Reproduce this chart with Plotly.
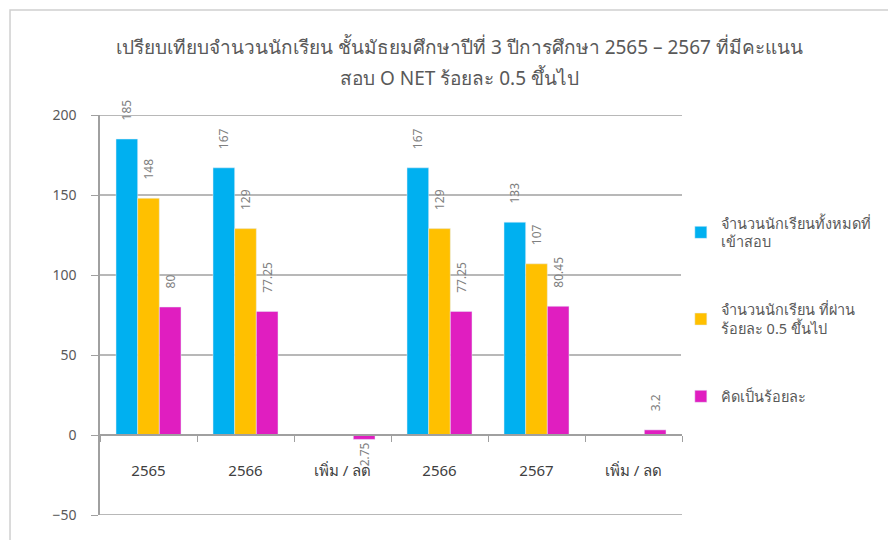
import plotly.graph_objects as go

categories = ["2565", "2566", "เพิ่ม / ลด", "2566", "2567", "เพิ่ม / ลด"]
total_students = [185, 167, None, 167, 133, None]
passed_students = [148, 129, None, 129, 107, None]
percent_passed = [80, 77.25, -2.75, 77.25, 80.45, 3.2]
y_ticks = [-50, 0, 50, 100, 150, 200]

series_names = [
    "จำนวนนักเรียนทั้งหมดที่<br>เข้าสอบ",
    "จำนวนนักเรียน ที่ผ่าน<br>ร้อยละ 0.5 ขึ้นไป",
    "คิดเป็นร้อยละ",
]
series_colors = ["#00B0F0", "#FFC000", "#E01EC0"]
title_lines = [
    "เปรียบเทียบจำนวนนักเรียน ชั้นมัธยมศึกษาปีที่ 3 ปีการศึกษา 2565 – 2567 ที่มีคะแนน",
    "สอบ O NET ร้อยละ 0.5 ขึ้นไป",
]

x_pos = list(range(len(categories)))
label_font = dict(size=12, color="#808080")
pad = "\u00a0" * 5  # pushes the rotated labels a bit away from the bar tops

fig = go.Figure()
for i, (vals, name, color) in enumerate(zip(
        [total_students, passed_students, percent_passed], series_names, series_colors)):
    fig.add_trace(go.Bar(
        x=x_pos, y=vals, name=name, marker_color=color,
        text=[("" if v is None else pad + f"{v:g}") for v in vals],
        textposition="outside", textangle=-90, textfont=label_font,
        constraintext="none", cliponaxis=False, legendgroup=f"g{i}",
    ))

fig.update_layout(
    width=896, height=540,
    paper_bgcolor="white", plot_bgcolor="white",
    font=dict(family="Noto Sans, DejaVu Sans, sans-serif", color="#595959"),
    barmode="group", bargap=0.33, bargroupgap=0,
    margin=dict(l=92, r=222, t=107, b=33),
    legend=dict(
        x=0.998, xanchor="left", y=0.77, yanchor="top",
        font=dict(size=14.5, color="#595959"),
        tracegroupgap=46, itemwidth=30,
    ),
)

# two-line title as annotations so the line spacing can match
for text, ypos in zip(title_lines, [1.17, 1.0925]):
    fig.add_annotation(text=text, xref="paper", yref="paper", x=0.618, y=ypos,
                       xanchor="center", yanchor="middle", showarrow=False,
                       font=dict(size=19, color="#595959"))

# horizontal gridlines
for v in y_ticks:
    if v == 0:
        continue
    fig.add_shape(type="line", xref="x domain", yref="y", x0=0, x1=1, y0=v, y1=v,
                  line=dict(color="#a0a0a0", width=1.5), layer="below")

fig.update_xaxes(
    range=[-0.5, 5.5],
    tickvals=x_pos, ticktext=categories, ticks="",
    tickfont=dict(size=15, color="#404040"),
    anchor="free", position=0.2,
    showline=True, linecolor="#a0a0a0", linewidth=1.5,
    showgrid=False, zeroline=False,
    minor=dict(tickvals=[-0.5, 0.5, 1.5, 2.5, 3.5, 4.5, 5.5], ticks="outside",
               ticklen=6, tickcolor="#a0a0a0", showgrid=False),
    ticklabelstandoff=22,
)
fig.update_yaxes(
    range=[-50, 200], tickvals=y_ticks,
    showgrid=False, zeroline=False,
    showline=True, linecolor="#a0a0a0", linewidth=1.5,
    ticks="outside", ticklen=7, tickcolor="#a0a0a0",
    tickfont=dict(size=14, color="#595959"),
    ticklabelstandoff=12,
)

fig.add_shape(type="rect", xref="paper", yref="paper",
              x0=-0.1546, x1=1.3625, y0=-0.2, y1=1.2625,
              line=dict(color="#d0d0d0", width=1.5), layer="below")

fig.write_html("out.html")
